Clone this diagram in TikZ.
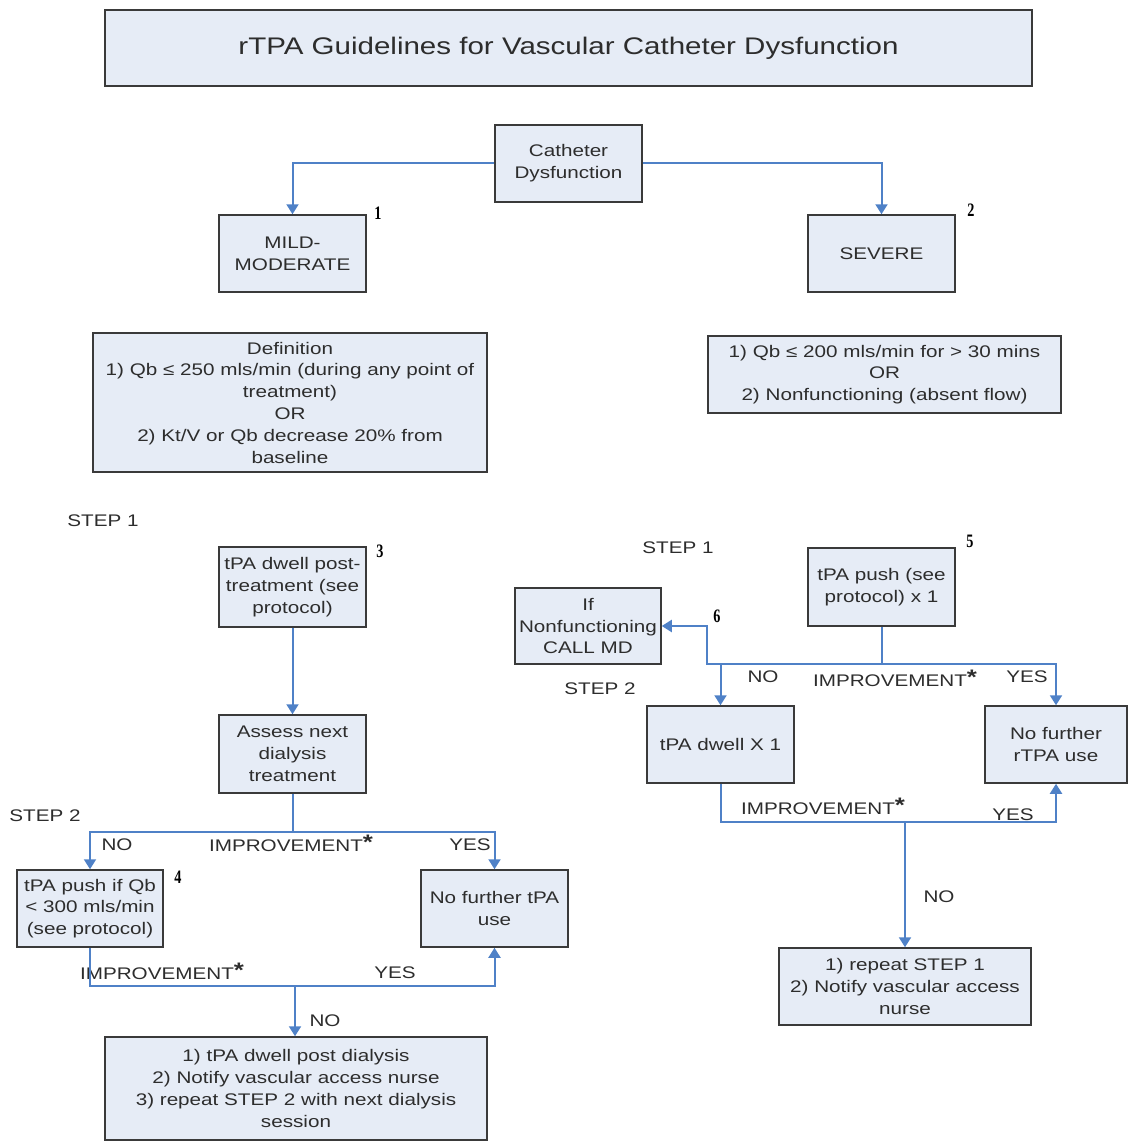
\documentclass[tikz,border=0pt]{standalone}
\usepackage{fontspec}
\setmainfont[FakeStretch=1.23]{Liberation Sans}
\newfontfamily\numfont[FakeStretch=0.75]{Liberation Serif}
\usetikzlibrary{arrows.meta,shadows}
\definecolor{boxfill}{RGB}{230,236,246}
\definecolor{boxline}{RGB}{58,58,58}
\definecolor{flowblue}{RGB}{79,129,199}
\definecolor{txt}{RGB}{45,45,45}
\newcommand\impr{IMPROVEMENT\raisebox{2pt}{\fontsize{21}{21}\selectfont\bfseries *}}
\tikzset{
  box/.style 2 args={draw=boxline, fill=boxfill, line width=1.5pt, align=center, inner sep=0pt,
    text=txt, font=\fontsize{16.8}{21.8}\selectfont, minimum width=#1pt, minimum height=#2pt,
    drop shadow={shadow xshift=1.2pt, shadow yshift=-1.2pt, opacity=.3}},
  flow/.style={draw=flowblue, line width=2pt, -{Triangle[width=12pt,length=10pt]}},
  stem/.style={draw=flowblue, line width=2pt},
  lbl/.style={inner sep=0pt, text=txt, font=\fontsize{16.8}{20}\selectfont},
  num/.style={inner sep=0pt, font=\numfont\bfseries\fontsize{19}{20}\selectfont}
}
\begin{document}
\begin{tikzpicture}[x=1pt,y=-1pt]
\useasboundingbox (0,0) rectangle (1128,1142);
\node[box={927}{76}, font=\fontsize{24}{28}\selectfont] (title) at (568.5,48) {rTPA Guidelines for Vascular Catheter Dysfunction};
\node[box={147}{77}] (cath) at (568.5,163.5) {Catheter\\Dysfunction};
\node[box={147}{77}] (mild) at (292.5,253.5) {MILD-\\MODERATE};
\node[box={147}{77}] (severe) at (881.5,253.5) {SEVERE};
\node[box={394}{139}] (defmild) at (290,402.5) {Definition\\1) Qb ≤ 250 mls/min (during any point of\\treatment)\\OR\\2) Kt/V or Qb decrease 20\% from\\baseline};
\node[box={353}{77}] (defsev) at (884.5,374.5) {1) Qb ≤ 200 mls/min for > 30 mins\\OR\\2) Nonfunctioning (absent flow)};
\node[box={147}{80}] (dwell) at (292.5,587) {tPA dwell post-\\treatment (see\\protocol)};
\node[box={147}{78}] (assess) at (292.5,754) {Assess next\\dialysis\\treatment};
\node[box={146}{77}] (pushqb) at (90,908.5) {tPA push if Qb\\< 300 mls/min\\(see protocol)};
\node[box={147}{77}] (nofurther) at (494.5,908.5) {No further tPA\\use};
\node[box={382}{103}] (final) at (296,1088.5) {1) tPA dwell post dialysis\\2) Notify vascular access nurse\\3) repeat STEP 2 with next dialysis\\session};
\node[box={147}{78}] (push) at (881.5,587) {tPA push (see\\protocol) x 1};
\node[box={146}{76}] (callmd) at (588,626) {If\\Nonfunctioning\\CALL MD};
\node[box={147}{77}] (dwellx) at (720.5,744.5) {tPA dwell X 1};
\node[box={142}{77}] (nofurtherr) at (1056,744.5) {No further\\rTPA use};
\node[box={252}{77}] (repeat) at (905,986.5) {1) repeat STEP 1\\2) Notify vascular access\\nurse};

\foreach \n/\x/\y in {1/378/213, 2/971/210, 3/380/551, 4/178/877, 5/970/541, 6/717/616}
  \node[num] (n\n) at (\x,\y) {\n};
\foreach \t/\x/\y [count=\i] in {STEP 1/103/521, STEP 2/45/816, STEP 1/678/548, STEP 2/600/689}
  \node[lbl] (step\i) at (\x,\y) {\t};
\foreach \nm/\t/\x/\y in {noA/NO/117/845, impA/\impr/291/843, yesA/YES/470/845,
    impB/\impr/162/971, yesB/YES/395/973, noB/NO/325/1021,
    noC/NO/763/677, impC/\impr/895/678, yesC/YES/1027/677,
    impD/\impr/823/806, yesD/YES/1013/815, noD/NO/939/897}
  \node[lbl] (\nm) at (\x,\y) {\t};

\coordinate (j1) at (292.5,832);
\coordinate (j2) at (295,986);
\coordinate (j3) at (881.5,664);
\coordinate (j4) at (707,664);
\coordinate (j5) at (905,822);

\draw[flow] (cath.west) -| (mild.north);
\draw[flow] (cath.east) -| (severe.north);
\draw[flow] (dwell) -- (assess);
\draw[stem] (assess.south) -- (j1);
\draw[flow] (j1) -| (pushqb.north);
\draw[flow] (j1) -| (nofurther.north);
\draw[flow] (pushqb.south) |- (j2) -| (nofurther.south);
\draw[flow] (j2) -- (final.north -| j2);
\draw[stem] (push.south) -- (j3);
\draw[flow] (j3) -| (nofurtherr.north);
\draw[flow] (j3) -- (j4) |- (callmd.east);
\draw[flow] (dwellx.north |- j4) -- (dwellx.north);
\draw[flow] (dwellx.south) |- (j5) -| (nofurtherr.south);
\draw[flow] (j5) -- (repeat.north);
\end{tikzpicture}
\end{document}
